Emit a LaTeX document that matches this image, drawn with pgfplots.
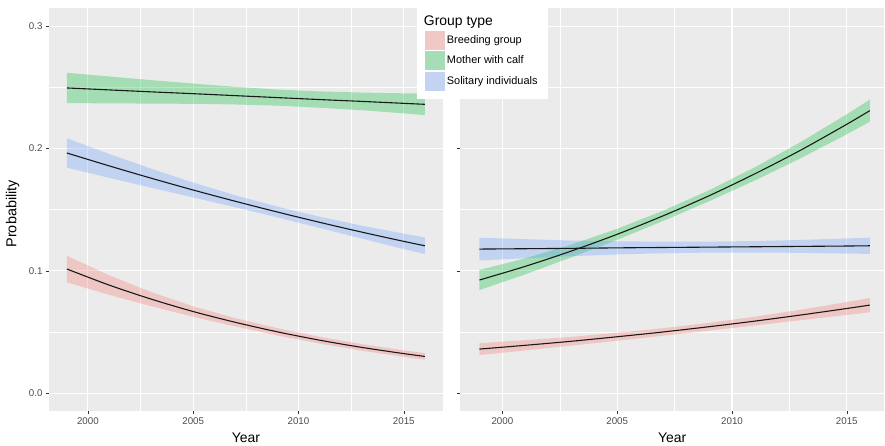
\documentclass[border=0pt]{standalone}
\usepackage{pgfplots}
\pgfplotsset{compat=1.18}
\usepackage{pgfplotstable}
\usepgfplotslibrary{fillbetween}
\usepackage{fontspec}
\setmainfont{Liberation Sans}
\definecolor{ggbg}{HTML}{EBEBEB}
\definecolor{ggred}{HTML}{F8766D}
\definecolor{gggreen}{HTML}{00BA38}
\definecolor{ggblue}{HTML}{619CFF}
\definecolor{keyred}{RGB}{240,200,198}
\definecolor{keygreen}{RGB}{165,221,182}
\definecolor{keyblue}{RGB}{195,212,242}
\definecolor{ticktxt}{HTML}{4D4D4D}

% Left panel
\pgfplotstableread{
x lo mid hi
1999 0.0906 0.1015 0.1124
2001 0.0804 0.0884 0.0964
2003 0.0711 0.0769 0.0827
2005 0.0624 0.0667 0.0710
2007 0.0545 0.0579 0.0613
2009 0.0471 0.0501 0.0531
2011 0.0405 0.0433 0.0461
2013 0.0347 0.0374 0.0401
2015 0.0296 0.0323 0.0350
2016 0.0273 0.0300 0.0327
}\LR
\pgfplotstableread{
x lo mid hi
1999 0.2372 0.2496 0.2620
2001 0.2370 0.2480 0.2590
2003 0.2368 0.2464 0.2560
2005 0.2366 0.2449 0.2532
2007 0.2361 0.2433 0.2505
2009 0.2351 0.2417 0.2483
2011 0.2334 0.2401 0.2468
2013 0.2314 0.2386 0.2458
2015 0.2288 0.2370 0.2452
2016 0.2274 0.2362 0.2450
}\LG
\pgfplotstableread{
x lo mid hi
1999 0.1844 0.1964 0.2084
2001 0.1761 0.1859 0.1957
2003 0.1680 0.1758 0.1836
2005 0.1600 0.1661 0.1722
2007 0.1520 0.1569 0.1618
2009 0.1437 0.1481 0.1525
2011 0.1351 0.1397 0.1443
2013 0.1264 0.1317 0.1370
2015 0.1178 0.1241 0.1304
2016 0.1137 0.1205 0.1273
}\LB
% Right panel
\pgfplotstableread{
x lo mid hi
1999 0.0311 0.0360 0.0409
2001 0.0349 0.0391 0.0433
2003 0.0388 0.0424 0.0460
2005 0.0428 0.0461 0.0494
2007 0.0469 0.0500 0.0531
2009 0.0511 0.0543 0.0575
2011 0.0553 0.0589 0.0625
2013 0.0596 0.0639 0.0682
2015 0.0639 0.0692 0.0745
2016 0.0662 0.0720 0.0778
}\RR
\pgfplotstableread{
x lo mid hi
1999 0.0843 0.0925 0.1007
2001 0.0972 0.1037 0.1102
2003 0.1110 0.1162 0.1214
2005 0.1254 0.1299 0.1344
2007 0.1408 0.1450 0.1492
2009 0.1569 0.1614 0.1659
2011 0.1740 0.1794 0.1848
2013 0.1922 0.1988 0.2054
2015 0.2117 0.2199 0.2281
2016 0.2220 0.2310 0.2400
}\RG
\pgfplotstableread{
x lo mid hi
1999 0.1085 0.1178 0.1271
2001 0.1103 0.1181 0.1259
2003 0.1120 0.1184 0.1248
2005 0.1134 0.1188 0.1242
2007 0.1144 0.1191 0.1238
2009 0.1149 0.1194 0.1239
2011 0.1150 0.1197 0.1244
2013 0.1147 0.1200 0.1253
2015 0.1141 0.1203 0.1265
2016 0.1139 0.1205 0.1271
}\RB

\pgfplotsset{
  ggax/.style={
    scale only axis, height=403.7bp, anchor=south west,
    ymin=-0.015, ymax=0.315,
    axis background/.style={fill=ggbg},
    axis x line*=bottom, axis y line*=left,
    axis line style={draw=none},
    xtick={2000,2005,2010,2015}, ytick={0,0.1,0.2,0.3},
    minor x tick num=1, minor y tick num=1,
    grid=both,
    major grid style={white, line width=1.1bp},
    minor grid style={white, line width=0.55bp},
    tick align=outside, major tick length=3bp, minor tick length=0pt,
    tick style={color=black!80, line width=0.5bp},
    ticklabel style={font=\fontsize{9.8}{11}\selectfont, text=ticktxt},
    /pgf/number format/assume math mode=true,
    x tick label style={/pgf/number format/1000 sep={}},
    xlabel style={at={(axis description cs:0.5,-0.0651)}, anchor=center, font=\fontsize{14}{16}\selectfont},
  },
  band/.style={draw=none, forget plot},
  fit/.style={black!90, line width=1.1bp, forget plot},
}

\begin{document}
\begin{tikzpicture}
\path (0,0) rectangle (885bp,445bp);
% Left panel
\begin{axis}[ggax, width=394bp, at={(49bp,33.3bp)},
  xmin=1998.15, xmax=2016.85,
  yticklabels={0.0,0.1,0.2,0.3},
  xlabel={Year}, ylabel={Probability},
  ylabel style={at={(axis description cs:-0.092,0.49)}, anchor=center, font=\fontsize{14.5}{16}\selectfont},
]
\addplot[band, name path=lrl] table[x=x,y=lo]{\LR};
\addplot[band, name path=lrh] table[x=x,y=hi]{\LR};
\addplot[ggred, fill opacity=0.3, draw=none, forget plot] fill between[of=lrl and lrh];
\addplot[band, name path=lgl] table[x=x,y=lo]{\LG};
\addplot[band, name path=lgh] table[x=x,y=hi]{\LG};
\addplot[gggreen, fill opacity=0.3, draw=none, forget plot] fill between[of=lgl and lgh];
\addplot[band, name path=lbl] table[x=x,y=lo]{\LB};
\addplot[band, name path=lbh] table[x=x,y=hi]{\LB};
\addplot[ggblue, fill opacity=0.3, draw=none, forget plot] fill between[of=lbl and lbh];
\addplot[fit, smooth] table[x=x,y=mid]{\LR};
\addplot[fit, smooth] table[x=x,y=mid]{\LG};
\addplot[fit, smooth] table[x=x,y=mid]{\LB};
\end{axis}
% Right panel
\begin{axis}[ggax, width=425bp, at={(460bp,33.3bp)},
  xmin=1998.14, xmax=2016.64,
  yticklabels={},
  xlabel={Year},
  legend style={at={(-0.1012,1.0198)}, anchor=north west, draw=none, fill=white,
    font=\fontsize{11}{12}\selectfont, cells={anchor=west},
    inner xsep=8bp, inner ysep=8.5bp, row sep=1.5bp},
  legend image code/.code={\fill[#1, draw=none] (0bp,-9.5bp) rectangle (20bp,9.5bp);},
]
\addlegendimage{empty legend}
\addlegendentry{\hspace{-23bp}\fontsize{14}{16}\selectfont\rule[-5bp]{0pt}{20bp}Group type}
\addlegendimage{fill=keyred}
\addlegendentry{Breeding group}
\addlegendimage{fill=keygreen}
\addlegendentry{Mother with calf}
\addlegendimage{fill=keyblue}
\addlegendentry{Solitary individuals}
\addplot[band, name path=rrl] table[x=x,y=lo]{\RR};
\addplot[band, name path=rrh] table[x=x,y=hi]{\RR};
\addplot[ggred, fill opacity=0.3, draw=none, forget plot] fill between[of=rrl and rrh];
\addplot[band, name path=rgl] table[x=x,y=lo]{\RG};
\addplot[band, name path=rgh] table[x=x,y=hi]{\RG};
\addplot[gggreen, fill opacity=0.3, draw=none, forget plot] fill between[of=rgl and rgh];
\addplot[band, name path=rbl] table[x=x,y=lo]{\RB};
\addplot[band, name path=rbh] table[x=x,y=hi]{\RB};
\addplot[ggblue, fill opacity=0.3, draw=none, forget plot] fill between[of=rbl and rbh];
\addplot[fit, smooth] table[x=x,y=mid]{\RR};
\addplot[fit, smooth] table[x=x,y=mid]{\RG};
\addplot[fit, smooth] table[x=x,y=mid]{\RB};
\end{axis}
\end{tikzpicture}
\end{document}
